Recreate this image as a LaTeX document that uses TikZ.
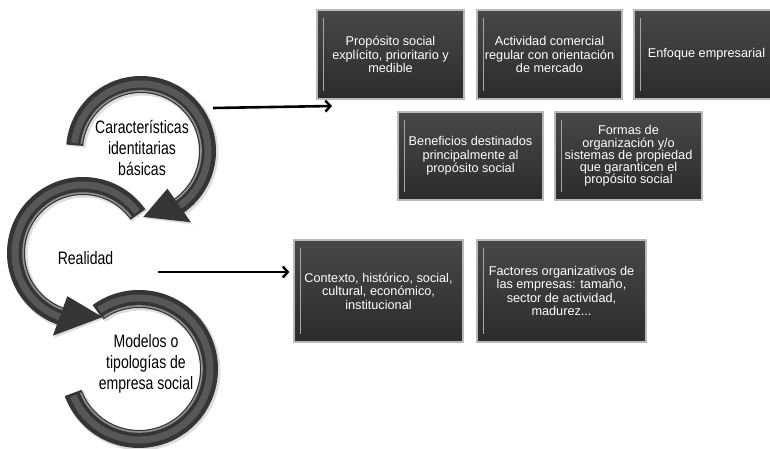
\documentclass[tikz,border=0pt]{standalone}
\usepackage{fontspec}
\setmainfont{Liberation Sans}
\newfontfamily\circfont[FakeStretch=0.78]{Liberation Sans}
\usetikzlibrary{arrows.meta,calc}
\definecolor{boxtop}{HTML}{484848}
\definecolor{boxbot}{HTML}{2B2B2B}
\definecolor{ribbon}{HTML}{353535}
\definecolor{ribmid}{HTML}{575757}
\begin{document}
\begin{tikzpicture}[x=1pt,y=1pt,
  box/.style={draw=gray!55, line width=1.2pt, top color=boxtop, bottom color=boxbot,
    text=white, align=center, inner sep=2pt,
    font=\fontsize{12.7}{13.4}\selectfont},
  bevel/.style={draw=gray!70, line width=1.3pt},
  ribfill/.style={fill=ribbon},
  ribshadow/.style={fill=gray!45, opacity=0.6},
  ribmidline/.style={draw=ribmid, line width=7pt},
  ribhl/.style={draw=white, opacity=0.45, line width=1.6pt},
  ctext/.style={align=center, font=\circfont\fontsize{18}{21}\selectfont},
  conn/.style={line width=2.6pt, -{Straight Barb[length=5pt,width=11pt,line width=2.4pt]}}
]
\useasboundingbox (0,0) rectangle (770,449);

% ---- ribbon C (Modelos), centre (138,80)
\begin{scope}[shift={(139,80)}]
  \fill[ribshadow,shift={(1.5,-1.5)}] (126:80) arc[start angle=126, end angle=-160, radius=80] -- (-160:60) arc[start angle=-160, end angle=126, radius=60] -- cycle;
  \fill[ribfill] (126:79) arc[start angle=126, end angle=-160, radius=79] -- (-160:61) arc[start angle=-160, end angle=126, radius=61] -- cycle;
  \draw[ribmidline] (124:71) arc[start angle=124, end angle=-158, radius=71];
  \draw[ribhl] (124:63) arc[start angle=124, end angle=-158, radius=63];
\end{scope}

% ---- ribbon B (Realidad), centre (83,196)
\begin{scope}[shift={(83,196)}]
  \fill[ribshadow,shift={(1.5,-1.5)}] (35:77) arc[start angle=35, end angle=250, radius=77] -- (250:89) -- (287:67) -- (250:45) -- (250:57) arc[start angle=250, end angle=35, radius=57] -- cycle;
  \fill[ribfill] (35:76) arc[start angle=35, end angle=250, radius=76] -- (250:88) -- (287:67) -- (250:46) -- (250:58) arc[start angle=250, end angle=35, radius=58] -- cycle;
  \draw[ribmidline] (37:68) arc[start angle=37, end angle=250, radius=68];
  \draw[ribhl] (37:60) arc[start angle=37, end angle=250, radius=60];
\end{scope}

% ---- ribbon A (Caracteristicas), centre (141,298)
\begin{scope}[shift={(141,298)}]
  \fill[ribshadow,shift={(1.5,-1.5)}] (175:76) arc[start angle=175, end angle=-55, radius=76] -- (-55:88) -- (-88:66) -- (-55:45) -- (-55:57) arc[start angle=-55, end angle=175, radius=57] -- cycle;
  \fill[ribfill] (175:75) arc[start angle=175, end angle=-55, radius=75] -- (-55:87) -- (-88:66) -- (-55:46) -- (-55:58) arc[start angle=-55, end angle=175, radius=58] -- cycle;
  \draw[ribmidline] (173:67) arc[start angle=173, end angle=-55, radius=67];
  \draw[ribhl] (173:60) arc[start angle=173, end angle=-55, radius=60];
\end{scope}

% ---- circle texts
\node[ctext] (c1txt) at (142,301) {Características\\identitarias\\básicas};
\node[ctext] (c2txt) at (85.5,191) {Realidad};
\node[ctext] (c3txt) at (146,85) {Modelos o\\tipologías de\\empresa social};

% ---- boxes
\node[box, minimum width=147pt, minimum height=89pt] (b1) at (390.5,394.5) {Propósito social\\explícito, prioritario y\\medible};
\node[box, minimum width=145pt, minimum height=89pt] (b2) at (549.5,394.5) {Actividad comercial\\regular con orientación\\de mercado};
\node[box, minimum width=145pt, minimum height=89pt] (b3) at (706.5,394.5) {Enfoque empresarial};
\node[box, minimum width=145pt, minimum height=88pt] (b4) at (470.5,293) {Beneficios destinados\\principalmente al\\propósito social};
\node[box, minimum width=147pt, minimum height=88pt, font=\fontsize{12.7}{12.2}\selectfont] (b5) at (628.5,293) {Formas de\\organización y/o\\sistemas de propiedad\\que garanticen el\\propósito social};
\node[box, minimum width=169pt, minimum height=102pt] (b6) at (378.5,158) {Contexto, histórico, social,\\cultural, económico,\\institucional};
\node[box, minimum width=169pt, minimum height=102pt] (b7) at (561.5,158) {Factores organizativos de\\las empresas: tamaño,\\sector de actividad,\\madurez...};

\foreach \b in {b1,b2,b3,b4,b5,b6,b7}{
  \draw[bevel] ([xshift=7pt,yshift=-9pt]\b.north west) -- ([xshift=7pt,yshift=9pt]\b.south west);
}

% ---- connectors
\coordinate (a1s) at (213,341);
\coordinate (a1e) at (332,343);
\draw[conn] (a1s) -- (a1e);
\coordinate (a2s) at (158,177);
\draw[conn, shorten >=4pt] (a2s) -- (a2s -| b6.west);
\end{tikzpicture}
\end{document}
